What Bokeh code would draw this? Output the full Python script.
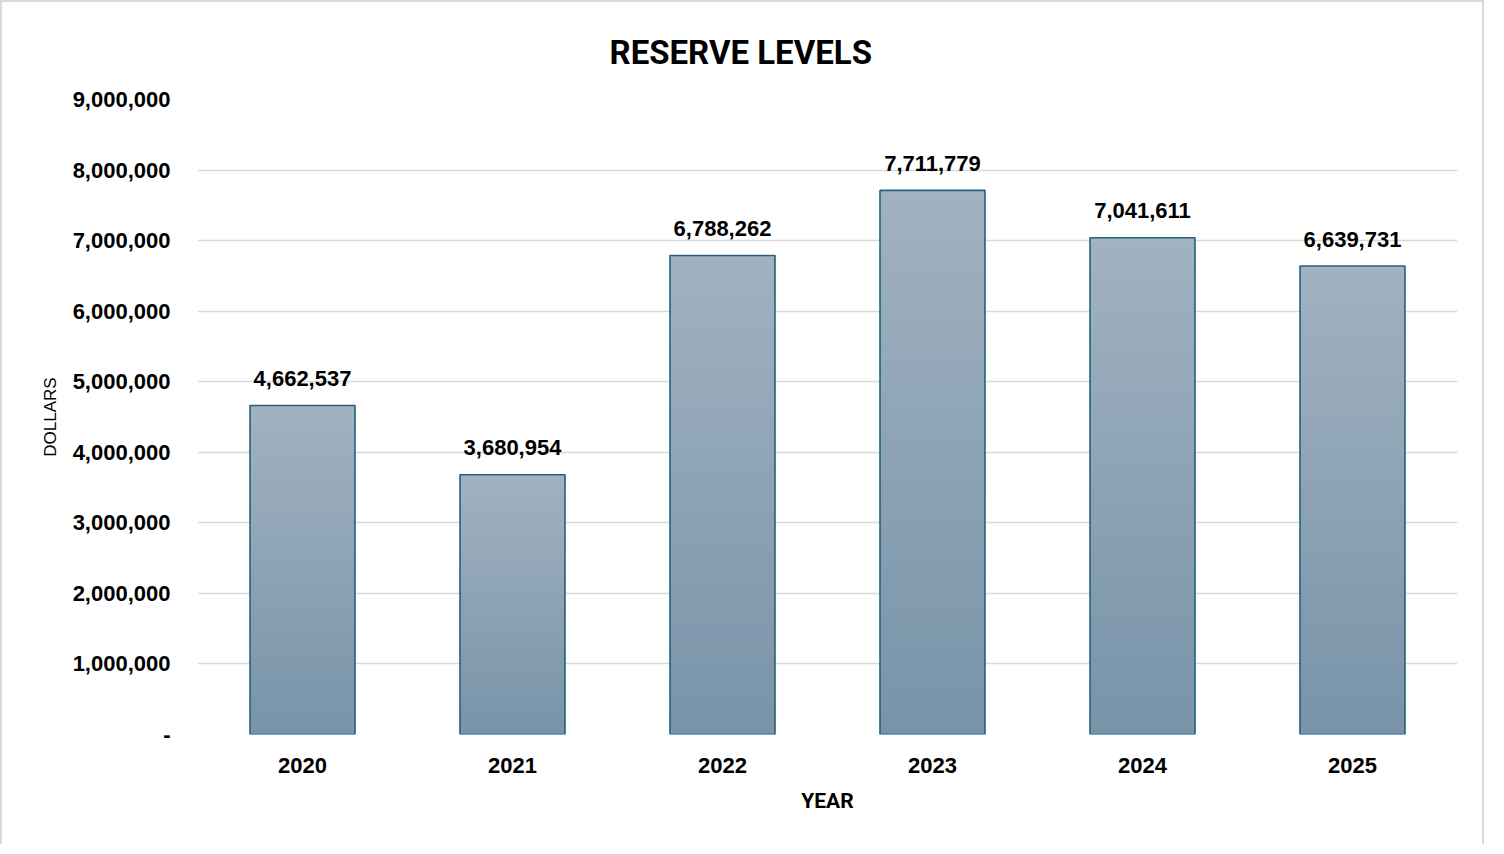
import numpy as np
from bokeh.plotting import figure
from bokeh.models import ColumnDataSource, FactorRange, Range1d, FixedTicker, CustomJSTickFormatter
from bokeh.core.properties import value
from bokeh.embed import file_html
from bokeh.resources import INLINE

# ---- data ----
years = ["2020", "2021", "2022", "2023", "2024", "2025"]
reserves = [4662537, 3680954, 6788262, 7711779, 7041611, 6639731]
label_texts = ["4,662,537", "3,680,954", "6,788,262", "7,711,779", "7,041,611", "6,639,731"]
y_ticks = [0, 1000000, 2000000, 3000000, 4000000, 5000000, 6000000, 7000000, 8000000, 9000000]
chart_title = "RESERVE LEVELS"

# ---- styling ----
top_rgb = np.array([0xA1, 0xB2, 0xC0])
bot_rgb = np.array([0x78, 0x93, 0xA9])
outline_color = "#25617f"
grid_color = "#d9d9d9"
N = 80

p = figure(
    x_range=FactorRange(*years),
    y_range=Range1d(0, 9000000),
    width=1484, height=844,
    output_backend="svg", toolbar_location=None,
    min_border_left=195, min_border_right=29, min_border_top=96, min_border_bottom=112,
    title=chart_title,
    styles={"border-left": "2px solid #d9d9d9", "border-top": "2px solid #d9d9d9",
            "border-right": "2px solid #d9d9d9"},
)
p.outline_line_color = None

# gradient fill built from overlapping slices of each bar (drawn bottom to top)
xs, bots, tops, cols = [], [], [], []
for yr, v in zip(years, reserves):
    for i in range(N):
        t = (i + 0.5) / N
        c = bot_rgb + (top_rgb - bot_rgb) * t
        xs.append(yr)
        bots.append(v * i / N)
        tops.append(min(v, v * (i + 1.6) / N))
        cols.append("#%02x%02x%02x" % tuple(int(round(k)) for k in c))
slices = ColumnDataSource(dict(x=xs, bottom=bots, top=tops, color=cols))
p.vbar(x="x", bottom="bottom", top="top", width=0.5, source=slices,
       fill_color="color", line_color=None)

src = ColumnDataSource(dict(x=years, top=reserves, label=label_texts))
p.vbar(x="x", top="top", width=0.5, source=src, fill_alpha=0,
       line_color=outline_color, line_width=1.6)

p.text(x="x", y="top", text="label", source=src, text_align="center",
       text_baseline="alphabetic", y_offset=-27,
       text_font=value("Liberation Sans"), text_font_style="bold",
       text_font_size="22px", text_color="#000000")

# title
p.title.align = "left"
p.title.offset = 412
p.title.text_font = "Roboto"
p.title.text_font_style = "bold"
p.title.text_font_size = "33px"
p.title.text_color = "#000000"
p.title.standoff = 56

# y axis
p.yaxis.ticker = FixedTicker(ticks=y_ticks)
p.yaxis.formatter = CustomJSTickFormatter(code="return tick == 0 ? '-' : tick.toLocaleString('en-US');")
p.yaxis.axis_line_color = None
p.yaxis.major_tick_line_color = None
p.yaxis.minor_tick_line_color = None
p.yaxis.major_label_standoff = 21
p.yaxis.major_label_text_font = "Liberation Sans"
p.yaxis.major_label_text_font_style = "bold"
p.yaxis.major_label_text_font_size = "22px"
p.yaxis.major_label_text_color = "#000000"
p.yaxis.axis_label = "DOLLARS"
p.yaxis.axis_label_text_font = "Liberation Sans"
p.yaxis.axis_label_text_font_style = "normal"
p.yaxis.axis_label_text_font_size = "17px"
p.yaxis.axis_label_text_color = "#000000"
p.yaxis.axis_label_standoff = 10

# x axis
p.xaxis.axis_line_color = None
p.xaxis.major_tick_line_color = None
p.xaxis.minor_tick_line_color = None
p.xaxis.major_label_standoff = 17
p.xaxis.major_label_text_font = "Liberation Sans"
p.xaxis.major_label_text_font_style = "bold"
p.xaxis.major_label_text_font_size = "22px"
p.xaxis.major_label_text_color = "#000000"
p.xaxis.axis_label = "YEAR"
p.xaxis.axis_label_text_font = "Roboto"
p.xaxis.axis_label_text_font_style = "bold"
p.xaxis.axis_label_text_font_size = "21px"
p.xaxis.axis_label_text_color = "#000000"
p.xaxis.axis_label_standoff = 13

# grid
p.xgrid.grid_line_color = None
p.ygrid.grid_line_color = grid_color
p.ygrid.grid_line_width = 1.5
p.ygrid.level = "underlay"

open("out.html", "w").write(file_html(p, INLINE))
